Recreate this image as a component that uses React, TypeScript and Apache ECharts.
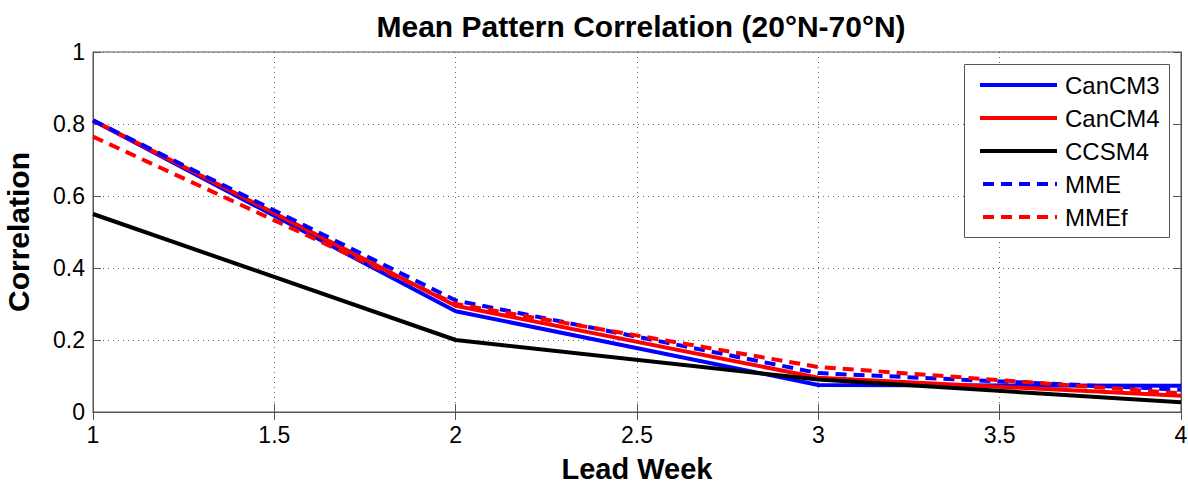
import React, { useEffect, useRef } from "react";
import * as echarts from "echarts";

const leadWeeks = [1, 2, 3, 4];
const canCM3 = [0.81, 0.28, 0.075, 0.073];
const canCM4 = [0.81, 0.295, 0.095, 0.045];
const ccsm4 = [0.55, 0.2, 0.09, 0.027];
const mme = [0.81, 0.31, 0.108, 0.062];
const mmef = [0.765, 0.3, 0.125, 0.052];

const seriesDefs = [
  { name: "CanCM3", data: canCM3, color: "#0000ff", dashed: false },
  { name: "CanCM4", data: canCM4, color: "#ff0000", dashed: false },
  { name: "CCSM4", data: ccsm4, color: "#000000", dashed: false },
  { name: "MME", data: mme, color: "#0000ff", dashed: true },
  { name: "MMEf", data: mmef, color: "#ff0000", dashed: true },
];

const FONT = "'Liberation Sans', Arial, sans-serif";
const DASH = [11, 7];

export default function App() {
  const ref = useRef<HTMLDivElement>(null);
  useEffect(() => {
    document.body.style.margin = "0";
    const chart = echarts.init(ref.current!, null, { renderer: "svg" });
    const gridLine = { show: true, lineStyle: { color: "#666", type: [1, 4] as any, width: 1 } };
    const axisCommon = {
      axisLine: { show: true, lineStyle: { color: "#555", width: 1 } },
      axisTick: { show: true, inside: true, length: 8, lineStyle: { color: "#555" } },
    };

    const legendTop = 85;
    const legendStep = 33;
    const legendGraphics: any[] = [
      {
        type: "rect",
        shape: { x: 964.5, y: 64.5, width: 205, height: 173 },
        style: { fill: "#fff", stroke: "#555", lineWidth: 1 },
        z: 100,
      },
    ];
    seriesDefs.forEach((s, i) => {
      const y = legendTop + i * legendStep;
      legendGraphics.push({
        type: "line",
        shape: { x1: s.dashed ? 983 : 980, y1: y, x2: 1057, y2: y },
        style: { stroke: s.color, lineWidth: 4, lineDash: s.dashed ? DASH : null },
        z: 101,
      });
      legendGraphics.push({
        type: "text",
        x: 1065,
        y: y,
        style: {
          text: s.name,
          fontFamily: FONT,
          fontSize: 24,
          fill: "#000",
          verticalAlign: "middle",
          align: "left",
        },
        z: 101,
      });
    });

    chart.setOption({
      animation: false,
      backgroundColor: "#fff",
      title: {
        text: "Mean Pattern Correlation (20°N-70°N)",
        left: 636,
        top: 6,
        textAlign: "center",
        textStyle: { fontFamily: FONT, fontSize: 30, fontWeight: "bold", color: "#000" },
      },
      grid: {
        left: 93,
        right: 7,
        top: 52,
        bottom: 71,
        outerBoundsMode: "none",
        containLabel: false,
        show: true,
        borderColor: "#555",
        borderWidth: 1,
      },
      xAxis: [
        {
          type: "value",
          min: 1,
          max: 4,
          interval: 0.5,
          name: "Lead Week",
          nameLocation: "middle",
          nameGap: 42,
          nameTextStyle: { fontFamily: FONT, fontSize: 29, fontWeight: "bold", color: "#000" },
          ...axisCommon,
          axisLabel: { fontFamily: FONT, fontSize: 23, color: "#000", margin: 11 },
          splitLine: gridLine,
        },
        {
          type: "value",
          position: "top",
          min: 1,
          max: 4,
          interval: 0.5,
          ...axisCommon,
          axisLabel: { show: false },
          splitLine: { show: false },
        },
      ],
      yAxis: [
        {
          type: "value",
          min: 0,
          max: 1,
          interval: 0.2,
          name: "Correlation",
          nameLocation: "middle",
          nameGap: 60,
          nameTextStyle: { fontFamily: FONT, fontSize: 30, fontWeight: "bold", color: "#000" },
          ...axisCommon,
          axisLabel: { fontFamily: FONT, fontSize: 23, color: "#000", margin: 8 },
          splitLine: gridLine,
        },
        {
          type: "value",
          position: "right",
          min: 0,
          max: 1,
          interval: 0.2,
          ...axisCommon,
          axisLabel: { show: false },
          splitLine: { show: false },
        },
      ],
      graphic: legendGraphics,
      series: seriesDefs.map((s) => ({
        name: s.name,
        type: "line",
        xAxisIndex: 0,
        yAxisIndex: 0,
        showSymbol: false,
        symbol: "none",
        color: s.color,
        lineStyle: { color: s.color, width: 4, type: s.dashed ? DASH : "solid" },
        data: leadWeeks.map((x, i) => [x, s.data[i]]),
      })),
    });
    return () => chart.dispose();
  }, []);
  return <div ref={ref} style={{ width: 1188, height: 483 }} />;
}
